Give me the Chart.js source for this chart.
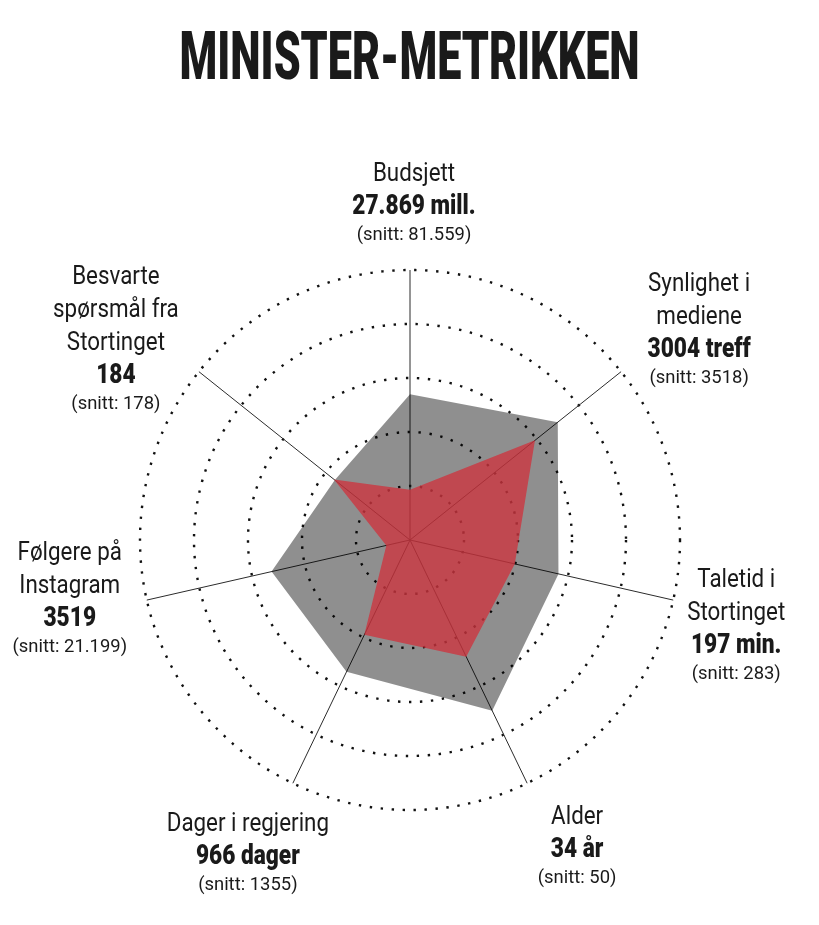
<!DOCTYPE html>
<html lang="no">
<head>
<meta charset="utf-8">
<title>Minister-metrikken</title>
<script src="https://cdn.jsdelivr.net/npm/chart.js@4.4.1/dist/chart.umd.min.js"></script>
<style>
  html, body { margin: 0; padding: 0; background: #ffffff; }
  body { width: 819px; height: 925px; position: relative; overflow: hidden; }
  #title {
    position: absolute; left: 0; top: 23px; width: 819px; margin: 0;
    text-align: center; font-family: Roboto, "Liberation Sans", sans-serif;
    font-weight: 900; font-size: 67px; line-height: 66px; color: #1a1a1a;
    white-space: nowrap;
  }
  #title span { display: inline-block; transform-origin: 50% 50%; }
  #chart { position: absolute; left: 0; top: 0; }
</style>
</head>
<body>
<h1 id="title"><span>MINISTER-METRIKKEN</span></h1>
<canvas id="chart" width="819" height="925"></canvas>
<script>
// ---- data ----
const CATEGORIES = ['Budsjett', 'Synlighet i mediene', 'Taletid i Stortinget', 'Alder', 'Dager i regjering', 'Følgere på Instagram', 'Besvarte spørsmål fra Stortinget'];
const CATEGORY_LINES = [
  ['Budsjett'],
  ['Synlighet i', 'mediene'],
  ['Taletid i', 'Stortinget'],
  ['Alder'],
  ['Dager i regjering'],
  ['Følgere på', 'Instagram'],
  ['Besvarte', 'spørsmål fra', 'Stortinget']
];
const VALUE_LABELS = ['27.869 mill.', '3004 treff', '197 min.', '34 år', '966 dager', '3519', '184'];
const SNITT_LABELS = ['(snitt: 81.559)', '(snitt: 3518)', '(snitt: 283)', '(snitt: 50)', '(snitt: 1355)', '(snitt: 21.199)', '(snitt: 178)'];
// values on the chart's 0–5 relative scale
const AVERAGE_VALUES = [2.70, 3.50, 2.82, 3.51, 2.71, 2.63, 1.78];
const MINISTER_VALUES = [0.93, 2.96, 1.99, 2.40, 1.95, 0.45, 1.80];
const SCALE_MAX = 5;
const SCALE_STEP = 1;

// ---- label layout (text offsets from each axis end) ----
const LABEL_OFFSETS = [[4, -30], [78, 11], [63, 79], [50, 100], [-45, 107], [-77, 52], [-83, 37]];
const TEXT_COLOR = '#1a1a1a';

// title: condense horizontally to match the reference width
(function () {
  const span = document.querySelector('#title span');
  const w = span.offsetWidth;
  const k = 460 / w;
  span.style.transform = 'scaleX(' + k + ')';
  span.style.marginLeft = '1px';
})();

function drawCondensed(ctx, text, x, y, font, sx) {
  ctx.save();
  ctx.font = font;
  ctx.fillStyle = TEXT_COLOR;
  ctx.textAlign = 'center';
  ctx.textBaseline = 'alphabetic';
  ctx.translate(x, y);
  ctx.scale(sx, 1);
  ctx.fillText(text, 0, 0);
  ctx.restore();
}

const axisLabelPlugin = {
  id: 'axisLabels',
  afterDraw(chart) {
    const scale = chart.scales.r;
    const ctx = chart.ctx;
    const R = scale.getDistanceFromCenterForValue(scale.max);
    CATEGORY_LINES.forEach((lines, i) => {
      const p = scale.getPointPosition(i, R);
      const cx = p.x + LABEL_OFFSETS[i][0];
      let y = p.y + LABEL_OFFSETS[i][1];
      drawCondensed(ctx, SNITT_LABELS[i], cx, y, '400 19px Roboto', 0.97);
      y -= 26;
      drawCondensed(ctx, VALUE_LABELS[i], cx, y, '900 27px Roboto', 0.84);
      for (let k = lines.length - 1; k >= 0; k--) {
        y -= 33;
        drawCondensed(ctx, lines[k], cx, y, '400 26px Roboto', 0.86);
      }
    });
  }
};

new Chart(document.getElementById('chart'), {
  type: 'radar',
  data: {
    labels: CATEGORIES,
    datasets: [
      {
        label: 'Minister',
        data: MINISTER_VALUES,
        backgroundColor: 'rgba(204, 54, 64, 0.8)',
        borderWidth: 0,
        pointRadius: 0,
        fill: true,
        tension: 0
      },
      {
        label: 'Snitt',
        data: AVERAGE_VALUES,
        backgroundColor: 'rgba(0, 0, 0, 0.44)',
        borderWidth: 0,
        pointRadius: 0,
        fill: true,
        tension: 0
      }
    ]
  },
  options: {
    responsive: false,
    animation: false,
    devicePixelRatio: 1,
    layout: { padding: { left: 140, right: 139, top: 270, bottom: 115 } },
    plugins: { legend: { display: false }, title: { display: false }, tooltip: { enabled: false } },
    elements: { line: { borderWidth: 0 } },
    scales: {
      r: {
        min: 0,
        max: SCALE_MAX,
        startAngle: 0,
        ticks: { display: false, stepSize: SCALE_STEP },
        pointLabels: { display: false },
        grid: { circular: true, color: '#111111', lineWidth: 2.4, borderDash: [2.4, 8.6] },
        border: { dash: [2.4, 8.6] },
        angleLines: { display: true, color: '#2b2b2b', lineWidth: 1 }
      }
    }
  },
  plugins: [axisLabelPlugin]
});
</script>
</body>
</html>
